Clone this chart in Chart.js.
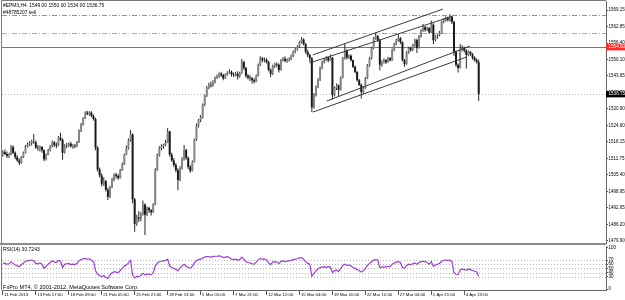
<!DOCTYPE html>
<html>
<head>
<meta charset="UTF-8">
<title>#EPM3,H4</title>
<script src="https://cdn.jsdelivr.net/npm/chart.js@4.4.0/dist/chart.umd.min.js"></script>
<style>
  html, body { margin: 0; padding: 0; background: #fff; }
  #wrap { position: relative; width: 625px; height: 300px; overflow: hidden; }
  #priceBox { position: absolute; left: 0; top: 0; width: 625px; height: 245px; }
  #rsiBox { position: absolute; left: 0; top: 243px; width: 625px; height: 57px; }
</style>
</head>
<body>
<div id="wrap">
  <div id="priceBox"><canvas id="priceChart"></canvas></div>
  <div id="rsiBox"><canvas id="rsiChart"></canvas></div>
</div>
<script>
const symbol = '#EPM3,H4';
const orderText = '#48785207 sell';
const copyright = 'FxPro MT4, \u00a9 2001-2012, MetaQuotes Software Corp.';

// H4 bars: [open, high, low, close]
const ohlc = [
  [1513.5,1515,1512.5,1514.25],[1514.25,1515.25,1513,1513.5],[1513.5,1514.5,1512,1512.75],[1512.75,1514,1512,1513.25],
  [1513.25,1517,1513,1516.25],[1516.25,1516.75,1513.5,1514],[1514,1514.5,1511.5,1512.25],[1512.25,1513,1510.5,1511],
  [1511,1511.75,1509.25,1510],[1510,1512.75,1509.75,1512.25],[1512.25,1514.5,1512,1514],[1514,1517,1513.75,1516.5],
  [1516.5,1518,1516,1517.25],[1517.25,1518.5,1516.5,1517.75],[1517.75,1519,1516.75,1518.25],[1518.25,1521.25,1517.5,1518],
  [1518,1518.75,1515.5,1516],[1516,1517,1514.75,1515.75],[1515.75,1516.75,1514.5,1516.25],[1516.25,1516.5,1514,1515],
  [1515,1515.25,1510.75,1511.5],[1511.5,1513.75,1511,1513.25],[1513.25,1515.5,1513,1515],[1515,1517,1514.5,1516.5],
  [1516.5,1518.75,1516,1518],[1518,1518.5,1516.25,1517],[1517,1518,1515.75,1516.75],[1516.75,1520.5,1516.5,1519.75],
  [1519.75,1521.75,1518.5,1519],[1519,1519.5,1511.25,1514],[1514,1517.25,1513.75,1516.75],[1516.75,1517.75,1515.75,1517],
  [1517,1518,1516.25,1517.5],[1517.5,1518.25,1516,1516.5],[1516.5,1517.25,1515.5,1516.75],[1516.75,1517.5,1515.75,1516.5],
  [1516.5,1518.5,1516.25,1518],[1518,1523,1517.75,1522.5],[1522.5,1525.5,1522,1525],[1525,1527.75,1524.5,1527.5],
  [1527.5,1530,1527,1529.5],[1529.5,1530.25,1528.5,1529],[1529,1530,1528.25,1529.5],[1529.5,1530,1527.75,1528.25],
  [1528.25,1528.75,1526.5,1527],[1527,1527.5,1515,1516],[1516,1516.5,1506.75,1507.5],[1507.5,1508.25,1504.5,1505.25],
  [1505.25,1506,1501,1502],[1502,1504.5,1501.25,1503],[1503,1503.5,1499,1499.75],[1499.75,1500.5,1495.75,1497],
  [1497,1501.25,1496.5,1500.75],[1500.75,1504.25,1500.25,1503.5],[1503.5,1506,1503,1505.5],[1505.5,1506.25,1504,1505],
  [1505,1505.75,1503.5,1504.25],[1504.25,1507.75,1504,1507.25],[1507.25,1510.25,1507,1509.5],[1509.5,1513.75,1509.25,1513.25],
  [1513.25,1516.75,1513,1515.75],[1515.75,1519.5,1515.25,1518.75],[1518.75,1522.75,1518.25,1521],[1521,1521.5,1494.5,1496],
  [1496,1496.5,1483.5,1486.5],[1486.5,1490,1485.75,1489],[1489,1491.5,1487.25,1488.5],[1488.5,1491,1487.5,1490.25],
  [1490.25,1495.5,1489.75,1494],[1494,1494.5,1482.25,1490],[1490,1493.25,1489.5,1492.75],[1492.75,1493,1490.75,1491.75],
  [1491.75,1492.25,1489.75,1491],[1491,1494.5,1490.75,1494],[1494,1508,1493.75,1507.25],[1507.25,1513.75,1507,1513],
  [1513,1516.5,1512.5,1515.75],[1515.75,1517.25,1515,1516.5],[1516.5,1517.5,1515.5,1517],[1517,1519,1516.5,1518],
  [1518,1523.5,1517.75,1522.25],[1522.25,1522.5,1512.5,1513.25],[1513.25,1514,1510.5,1511],[1511,1512,1508.5,1509.25],
  [1509.25,1510,1506.5,1507.25],[1507.25,1508,1499.5,1503.5],[1503.5,1508.75,1503,1508],[1508,1512.25,1507.5,1511.5],
  [1511.5,1517,1511,1515],[1515,1515.5,1511.25,1512],[1512,1512.5,1507.75,1508.5],[1508.5,1509.25,1506.25,1507],
  [1507,1511,1506.75,1510.5],[1510.5,1519.5,1510.25,1519],[1519,1525.25,1518.5,1524.5],[1524.5,1527,1523.75,1526.5],
  [1526.5,1528.5,1525.75,1527.75],[1527.75,1533,1527.25,1532.5],[1532.5,1536.5,1532,1536],[1536,1539.75,1535.5,1539],
  [1539,1541,1538.5,1540.25],[1540.25,1541.5,1539.25,1540],[1540,1542,1539.5,1541.25],[1541.25,1543.5,1540.75,1543],
  [1543,1544.25,1542.5,1543.5],[1543.5,1545,1543,1544.5],[1544.5,1545.25,1543.25,1544],[1544,1544.5,1542,1542.75],
  [1542.75,1544.75,1542.5,1544.25],[1544.25,1545.5,1543.75,1545],[1545,1546.25,1544.5,1545.25],[1545.25,1545.75,1543.5,1544.25],
  [1544.25,1545,1543.25,1544],[1544,1545.25,1543.5,1544.5],[1544.5,1545.5,1542.25,1543.5],[1543.5,1545.25,1543,1544.75],
  [1544.75,1550.25,1544.5,1549],[1549,1549.5,1546,1546.75],[1546.75,1547.25,1543,1543.75],[1543.75,1544.5,1542.25,1543],
  [1543,1544,1541.75,1542.75],[1542.75,1543.25,1540.75,1542],[1542,1542.75,1540.75,1541.5],[1541.5,1544.25,1541.25,1543.75],
  [1543.75,1548.5,1543.5,1548],[1548,1551.25,1547.5,1550.5],[1550.5,1551,1549,1549.75],[1549.75,1550.75,1549,1550],
  [1550,1550.5,1548.5,1549],[1549,1549.5,1545.5,1546],[1546,1546.5,1543.25,1544.5],[1544.5,1548,1544,1547.5],
  [1547.5,1548.75,1546.75,1548.25],[1548.25,1549,1547,1548],[1548,1548.5,1545,1546],[1546,1550.25,1545.75,1549.75],
  [1549.75,1551,1549.25,1550.25],[1550.25,1551.25,1549,1549.5],[1549.5,1550.5,1548.75,1550],[1550,1550.75,1549.25,1550.25],
  [1550.25,1552,1549.75,1551.5],[1551.5,1553.5,1551,1553],[1553,1554.5,1552.5,1554],[1554,1555.5,1553.5,1555],
  [1555,1557.25,1554.5,1556.75],[1556.75,1558.75,1556.25,1557.75],[1557.75,1558.25,1555.5,1556],[1556,1556.5,1552.25,1553],
  [1553,1553.75,1551,1551.75],[1551.75,1552.25,1549,1550.5],[1550.5,1551,1529.75,1531.5],[1531.5,1537,1531,1536.25],
  [1536.25,1540,1535.75,1539.5],[1539.5,1542.75,1539,1542.25],[1542.25,1547.25,1541.75,1546.75],[1546.75,1549.5,1546.25,1549],
  [1549,1550.5,1548.5,1549.75],[1549.75,1551.25,1549.25,1550.75],[1550.75,1551,1549,1549.75],[1549.75,1552,1549.5,1550.75],
  [1550.75,1551,1534.5,1536.25],[1536.25,1539.5,1535.75,1539],[1539,1540.75,1538.25,1540],[1540,1540.5,1535.75,1538.25],
  [1538.25,1543.5,1538,1543],[1543,1551,1542.75,1550.5],[1550.5,1556,1550,1553.5],[1553.5,1554,1550,1550.75],
  [1550.75,1552,1550.25,1551.5],[1551.5,1552,1549.25,1549.75],[1549.75,1550,1546.75,1547.25],[1547.25,1547.75,1544.75,1545.25],
  [1545.25,1545.5,1541.5,1542],[1542,1542.5,1539.75,1540.25],[1540.25,1540.75,1535,1537.5],[1537.5,1539.5,1536.75,1539],
  [1539,1543.25,1538.75,1542.75],[1542.75,1548.25,1542.5,1547.75],[1547.75,1551,1547.25,1550.5],[1550.5,1555,1550,1554.5],
  [1554.5,1558.75,1554,1558.25],[1558.25,1560.25,1557.75,1559],[1559,1559.5,1556.75,1557.5],[1557.5,1558,1545.75,1548],
  [1548,1549.75,1547.25,1549],[1549,1550.5,1548.5,1549.75],[1549.75,1550.25,1548.25,1549],[1549,1551,1548.75,1550.5],
  [1550.5,1551,1549.25,1549.75],[1549.75,1554.25,1549.5,1553.75],[1553.75,1556.5,1553.25,1556],[1556,1558,1555.5,1557.5],
  [1557.5,1559.75,1557,1558.25],[1558.25,1558.75,1556,1556.75],[1556.75,1557,1549.25,1549.75],[1549.75,1550.25,1547.25,1548.25],
  [1548.25,1553.25,1548,1552.75],[1552.75,1555,1552.25,1554.5],[1554.5,1555,1553,1553.75],[1553.75,1556,1553.25,1555.5],
  [1555.5,1558,1555,1557.5],[1557.5,1558,1552.5,1554.5],[1554.5,1559.5,1554.25,1559],[1559,1561.75,1558.5,1561.25],
  [1561.25,1563.75,1560.75,1562.5],[1562.5,1563,1560.75,1561.5],[1561.5,1562.75,1561,1562.25],[1562.25,1562.5,1560,1560.5],
  [1560.5,1565,1560.25,1563.5],[1563.5,1564,1556,1557.5],[1557.5,1559.5,1557,1559],[1559,1560,1558,1559.5],
  [1559.5,1561,1559,1560.25],[1560.25,1565,1560,1564.5],[1564.5,1566,1564,1565.25],[1565.25,1566.75,1564.75,1566],
  [1566,1566.5,1564.75,1565.25],[1565.25,1567.5,1564.75,1566.5],[1566.5,1566.75,1563.75,1564.5],[1564.5,1565,1551.5,1553],
  [1553,1553.5,1547.25,1548],[1548,1548.5,1545,1546.75],[1546.75,1556,1546.5,1553.75],[1553.75,1555.5,1553.25,1554.5],
  [1554.5,1555,1552.75,1553.5],[1553.5,1554,1546.5,1551.75],[1551.75,1553.5,1551.25,1553],[1553,1553.25,1551.5,1552],
  [1552,1552.5,1550,1550.75],[1550.75,1551.25,1549.25,1549.75],[1549.75,1550.5,1548.5,1549],[1549,1550,1534,1536.75]
];

// RSI(14), one value per bar
const rsi = [
  63,62,60,61,66,62,58,56,54,59, 63,67,68,69,70,68,62,61,63,60,
  50,55,60,64,68,65,64,69,67,52, 60,61,62,59,60,59,62,68,71,73,
  74,72,73,70,66,45,36,33,30,33, 29,26,34,39,42,41,40,45,50,56,
  58,63,69,34,27,31,30,33,38,34, 37,36,35,39,56,63,66,67,68,69,
  72,56,52,50,48,44,51,56,60,55, 52,51,55,63,69,71,72,75,77,78,
  78,77,78,79,79,80,79,76,77,78, 76,72,71,72,70,71,77,72,66,64,
  63,61,60,65,71,74,72,72,70,63, 59,65,66,65,61,67,68,66,67,68,
  69,71,72,73,75,76,72,66,62,60, 31,38,44,49,52,53,54,52,54,53,
  40,44,46,42,49,57,60,57,58,56, 52,50,47,45,41,44,50,57,62,66,
  70,71,70,52,53,54,53,55,54,60, 63,65,66,64,52,50,57,60,59,61,
  63,60,64,66,67,66,64,60,66,55, 58,60,62,67,69,70,69,70,66,40,
  36,35,46,48,47,46,48,47,45,43, 42,30.7243
];

const timeLabels = ['11 Feb 2013', '13 Feb 17:00', '18 Feb 09:00', '21 Feb 05:00', '25 Feb 21:00',
  '28 Feb 13:00', '5 Mar 05:00', '7 Mar 21:00', '12 Mar 12:00', '15 Mar 04:00', '19 Mar 20:00',
  '22 Mar 12:00', '27 Mar 04:00', '1 Apr 21:00', '4 Apr 13:00'];
const timeLabelBars = [0, 16, 32, 48, 64, 80, 96, 112, 128, 144, 160, 176, 192, 208, 224];

const priceTicks = [1569.15, 1562.85, 1556.40, 1550.10, 1543.65, 1537.35, 1530.90, 1524.60,
  1518.15, 1511.75, 1505.40, 1498.95, 1492.65, 1486.20, 1479.90];
const rsiTicks = [100, 70, 60, 50, 40, 30, 0];
const rsiLevels = [70, 60, 50, 40, 30];

// order / stop / alert / bid levels
const levelPrices = [1567.20, 1560.30, 1554.90, 1536.75];
// channel lines: [[bar, price], [bar, price]]
const channelLines = [
  [[150.5, 1551.8], [213.6, 1569.5]],
  [[149.0, 1548.7], [218.4, 1566.8]],
  [[157.3, 1534.0], [226.7, 1555.2]],
  [[150.5, 1529.7], [225.2, 1551.0]]
];

// ---- styles ----
const levelStyles = [
  { color: '#5cb85c', dash: [5, 2, 1, 2] },
  { color: '#f5906c', dash: [5, 2, 1, 2] },
  { color: '#ff4040', dash: [] },
  { color: '#bdbdbd', dash: [1, 2] }
];
const xMin = -0.4, xMax = 292.8;
const frameColor = '#7a7a7a';
const fontFamily = "'Liberation Sans', Arial, sans-serif";
const axisFont = { family: fontFamily, size: 4.5 };

Chart.defaults.font.family = fontFamily;
Chart.defaults.font.size = 4.5;
Chart.defaults.color = '#000';
Chart.defaults.animation = false;

const last = ohlc[ohlc.length - 1];

const pricePlugin = {
  id: 'mt4price',
  beforeDatasetsDraw(chart) {
    const { ctx, chartArea: a, scales: { y } } = chart;
    ctx.save();
    levelPrices.forEach((p, k) => {
      const st = levelStyles[k];
      const py = Math.round(y.getPixelForValue(p)) + 0.5;
      ctx.strokeStyle = st.color;
      ctx.lineWidth = 1;
      ctx.setLineDash(st.dash);
      ctx.beginPath();
      ctx.moveTo(a.left, py);
      ctx.lineTo(a.right, py);
      ctx.stroke();
    });
    ctx.restore();
  },
  afterDraw(chart) {
    const { ctx, chartArea: a, scales: { y } } = chart;
    ctx.save();
    // frame
    ctx.strokeStyle = frameColor;
    ctx.lineWidth = 1;
    ctx.beginPath();
    ctx.moveTo(a.left - 0.5, a.bottom);
    ctx.lineTo(a.left - 0.5, a.top - 0.5);
    ctx.lineTo(a.right, a.top - 0.5);
    ctx.stroke();
    ctx.fillStyle = '#8c8c8c';
    ctx.fillRect(0, a.bottom, a.right, 2);

    // price flags on the axis
    const flags = [[levelPrices[2], '#ff2b2b'], [last[3], '#000']];
    ctx.font = '4.6px ' + fontFamily;
    ctx.textBaseline = 'middle';
    flags.forEach(([v, bg]) => {
      const py = y.getPixelForValue(v);
      ctx.fillStyle = bg;
      ctx.fillRect(a.right, py - 3, chart.width - a.right, 6.5);
      ctx.fillStyle = '#fff';
      ctx.fillText(v.toFixed(2), a.right + 2.5, py + 0.3);
    });

    // header text
    ctx.fillStyle = '#000';
    ctx.font = '4.9px ' + fontFamily;
    ctx.fillText(symbol + '  ' + last.map(v => v.toFixed(2)).join(' '), 3, 5.5);
    ctx.fillText(orderText, 3, 13);
    ctx.restore();
  }
};

new Chart(document.getElementById('priceChart'), {
  type: 'bar',
  data: {
    datasets: [
      {
        label: 'wick',
        data: ohlc.map((c, i) => ({ x: i, y: [c[2], c[1]] })),
        backgroundColor: '#262626',
        barThickness: 1,
        grouped: false,
        inflateAmount: 0,
        order: 3
      },
      {
        label: 'body',
        data: ohlc.map((c, i) => ({ x: i, y: [c[0], c[3]] })),
        backgroundColor: ohlc.map(c => c[3] >= c[0] ? '#858585' : '#1a1a1a'),
        barThickness: 2,
        grouped: false,
        inflateAmount: 0,
        order: 2
      },
      ...channelLines.map(seg => ({
        type: 'line',
        data: seg.map(p => ({ x: p[0], y: p[1] })),
        borderColor: '#3a3a3a',
        borderWidth: 1,
        pointRadius: 0,
        order: 1
      }))
    ]
  },
  options: {
    responsive: true,
    maintainAspectRatio: false,
    devicePixelRatio: 1,
    layout: { padding: { left: 2, top: 1, right: 0, bottom: 2 } },
    plugins: { legend: { display: false }, tooltip: { enabled: false } },
    scales: {
      x: { type: 'linear', min: xMin, max: xMax, display: false, offset: false },
      y: {
        position: 'right',
        min: 1479.12,
        max: 1572.63,
        afterBuildTicks: s => { s.ticks = priceTicks.map(v => ({ value: v })); },
        afterFit: s => { s.width = 19; s.paddingTop = 0; s.paddingBottom = 0; },
        grid: { drawOnChartArea: false, tickLength: 2, color: '#555' },
        border: { color: '#666' },
        ticks: { padding: 0.5, autoSkip: false, font: axisFont, callback: v => v.toFixed(2) }
      }
    }
  },
  plugins: [pricePlugin]
});

const rsiPlugin = {
  id: 'mt4rsi',
  beforeDatasetsDraw(chart) {
    const { ctx, chartArea: a, scales: { y } } = chart;
    ctx.save();
    ctx.strokeStyle = '#b4b4b4';
    ctx.lineWidth = 1;
    ctx.setLineDash([1, 2]);
    rsiLevels.forEach(v => {
      const py = Math.round(y.getPixelForValue(v)) + 0.5;
      ctx.beginPath();
      ctx.moveTo(a.left, py);
      ctx.lineTo(a.right, py);
      ctx.stroke();
    });
    ctx.setLineDash([]);
    ctx.strokeStyle = frameColor;
    ctx.beginPath();
    ctx.moveTo(a.left - 0.5, a.top);
    ctx.lineTo(a.left - 0.5, a.bottom);
    ctx.stroke();
    ctx.restore();
  },
  afterDraw(chart) {
    const { ctx } = chart;
    ctx.save();
    ctx.fillStyle = '#000';
    ctx.textBaseline = 'middle';
    ctx.font = '5px ' + fontFamily;
    ctx.fillText('RSI(14) ' + rsi[rsi.length - 1].toFixed(4), 3, 6.5);
    ctx.font = '5.6px ' + fontFamily;
    ctx.fillText(copyright, 3, 44);
    ctx.restore();
  }
};

new Chart(document.getElementById('rsiChart'), {
  type: 'line',
  data: {
    datasets: [{
      label: 'RSI(14)',
      data: rsi.map((v, i) => ({ x: i, y: v })),
      borderColor: '#9a3fd6',
      borderWidth: 1.2,
      pointRadius: 0,
      tension: 0
    }]
  },
  options: {
    responsive: true,
    maintainAspectRatio: false,
    devicePixelRatio: 1,
    layout: { padding: { left: 2, top: 3, right: 0, bottom: 0 } },
    plugins: { legend: { display: false }, tooltip: { enabled: false } },
    scales: {
      x: {
        type: 'linear',
        min: xMin,
        max: xMax,
        afterBuildTicks: s => { s.ticks = timeLabelBars.map(v => ({ value: v })); },
        afterFit: s => { s.height = 10; s.paddingLeft = 0; s.paddingRight = 0; },
        grid: { drawOnChartArea: false, tickLength: 5, color: '#555' },
        border: { color: '#666' },
        ticks: { autoSkip: false, maxRotation: 0, align: 'start', padding: -3, labelOffset: 1.5,
          font: { family: fontFamily, size: 4.3 }, callback: (v, i) => timeLabels[i] }
      },
      y: {
        position: 'right',
        min: -1.8,
        max: 103.6,
        afterBuildTicks: s => { s.ticks = rsiTicks.map(v => ({ value: v })); },
        afterFit: s => { s.width = 19; s.paddingTop = 0; s.paddingBottom = 0; },
        grid: { drawOnChartArea: false, tickLength: 2, color: '#555' },
        border: { color: '#666' },
        ticks: { padding: 0.5, autoSkip: false, font: axisFont, callback: v => String(v) }
      }
    }
  },
  plugins: [rsiPlugin]
});
</script>
</body>
</html>
